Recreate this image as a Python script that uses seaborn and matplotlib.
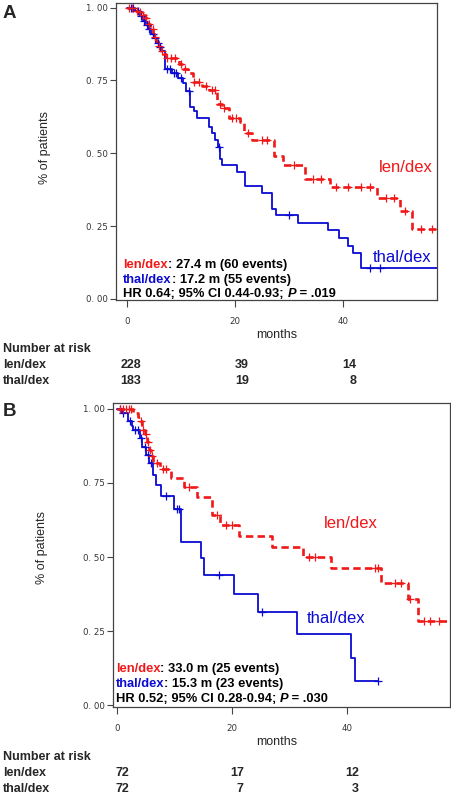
import numpy as np
import seaborn as sns
import matplotlib.pyplot as plt
from matplotlib.transforms import blended_transform_factory, offset_copy

# panel A: survival steps (months, fraction)
a_len_t = [0, 1.5, 2.2, 2.8, 3.3, 3.7, 4.0, 4.3, 4.6, 4.9, 5.2, 5.5, 5.8, 6.1, 6.4, 6.7, 7.2, 9.7,
           10.5, 11.3, 12.2, 14.0, 15.2, 16.8, 17.6, 19.0, 21.0, 21.8, 23.3, 27.3, 28.9, 33.0,
           37.6, 46.3, 50.6, 52.8, 57.5]
a_len_s = [1.0, 0.99, 0.984, 0.975, 0.965, 0.955, 0.945, 0.936, 0.925, 0.91, 0.90, 0.885, 0.87,
           0.86, 0.85, 0.84, 0.827, 0.807, 0.79, 0.775, 0.745, 0.73, 0.716, 0.67, 0.654, 0.62,
           0.606, 0.57, 0.545, 0.49, 0.459, 0.411, 0.385, 0.345, 0.30, 0.24, 0.24]
a_thal_t = [0, 1.5, 2.4, 3.0, 3.5, 4.0, 4.5, 5.0, 5.5, 6.0, 6.5, 7.0, 8.4, 9.5, 10.4, 11.0, 11.8,
            12.4, 13.0, 15.2, 15.8, 16.3, 16.9, 17.2, 17.7, 20.5, 22.0, 25.0, 27.0, 27.6, 31.7,
            37.3, 39.4, 41.0, 42.0, 43.5, 57.5]
a_thal_s = [1.0, 0.99, 0.97, 0.955, 0.94, 0.925, 0.91, 0.895, 0.88, 0.865, 0.85, 0.79, 0.775,
            0.76, 0.74, 0.715, 0.66, 0.645, 0.62, 0.59, 0.57, 0.545, 0.52, 0.48, 0.46, 0.436,
            0.387, 0.364, 0.31, 0.288, 0.261, 0.236, 0.208, 0.18, 0.157, 0.107, 0.107]
a_len_cens = [0.5, 1.0, 1.8, 2.5, 3.0, 3.5, 4.2, 4.8, 5.3, 5.9, 6.5, 7.5, 8.2, 9.0, 10.0, 10.8,
              12.5, 13.3, 14.6, 15.8, 16.3, 17.2, 18.0, 19.5, 20.2, 22.5, 25.0, 26.0, 31.0,
              34.5, 36.0, 38.8, 41.0, 43.5, 45.0, 48.0, 49.5, 51.5, 54.5, 56.5]
a_thal_cens = [0.8, 1.2, 2.0, 2.7, 3.2, 3.8, 4.2, 4.8, 5.2, 5.8, 6.2, 7.5, 8.0, 8.8, 9.2, 10.0,
               11.5, 17.0, 30.0, 45.0, 47.0]

# panel B
b_len_t = [0, 2.8, 3.6, 4.0, 4.4, 4.8, 5.2, 5.6, 6.0, 6.3, 7.4, 9.4, 11.7, 14.0, 16.6, 18.0,
           21.2, 27.0, 32.4, 37.3, 46.0, 50.6, 52.4, 58.0]
b_len_s = [1.0, 0.986, 0.972, 0.958, 0.93, 0.916, 0.888, 0.86, 0.84, 0.818, 0.797, 0.768, 0.738,
           0.704, 0.642, 0.608, 0.571, 0.534, 0.499, 0.462, 0.414, 0.358, 0.284, 0.284]
b_thal_t = [0, 0.9, 1.9, 2.6, 2.8, 4.0, 4.4, 5.0, 5.6, 6.3, 6.8, 7.7, 10.0, 11.2, 14.7, 15.2,
            20.4, 24.6, 31.4, 40.7, 41.4, 45.5]
b_thal_s = [1.0, 0.986, 0.958, 0.944, 0.93, 0.902, 0.873, 0.845, 0.816, 0.776, 0.743, 0.707,
            0.661, 0.552, 0.496, 0.439, 0.377, 0.315, 0.239, 0.158, 0.081, 0.081]
b_len_cens = [0.5, 1.0, 1.5, 2.0, 2.5, 4.2, 4.6, 5.0, 5.4, 5.8, 6.1, 7.0, 8.0, 8.6, 12.5, 17.5,
              19.0, 20.0, 33.5, 34.5, 45.0, 45.5, 48.5, 49.5, 51.0, 53.5, 54.5, 56.0]
b_thal_cens = [0.5, 1.0, 2.2, 3.2, 3.6, 4.2, 4.8, 5.4, 6.0, 8.6, 10.4, 10.8, 17.7, 25.2, 45.5]

x_ticks = [0, 20, 40]
y_ticks = [0, 0.25, 0.5, 0.75, 1.0]
y_ticklabels = ['0. 00', '0. 25', '0. 50', '0. 75', '1. 00']

risk_a = {'len/dex': [228, 39, 14], 'thal/dex': [183, 19, 8]}
risk_b = {'len/dex': [72, 17, 12], 'thal/dex': [72, 7, 3]}

stats_a = ['27.4 m (60 events)', '17.2 m (55 events)', ('HR 0.64; 95% CI 0.44-0.93; ', ' = .019')]
stats_b = ['33.0 m (25 events)', '15.3 m (23 events)', ('HR 0.52; 95% CI 0.28-0.94; ', ' = .030')]

RED = '#f01818'
BLUE = '#0a0ad2'

sns.set_style('ticks')
plt.rcParams['font.family'] = ['Liberation Sans', 'DejaVu Sans']

W, H = 452, 794
fig = plt.figure(figsize=(W / 100, H / 100), dpi=100)


def px_axes(l, t, r, b):
    return fig.add_axes([l / W, 1 - b / H, (r - l) / W, (b - t) / H])


def step_val(t, s, c):
    i = np.searchsorted(t, c, side='right') - 1
    return np.asarray(s)[i]


def km_panel(ax, curves, xlim, ylim):
    for t, s, cens, color, ls, lw in curves:
        sns.lineplot(x=t, y=s, ax=ax, color=color, drawstyle='steps-post', estimator=None,
                     sort=False, linewidth=lw, linestyle=ls)
        sns.scatterplot(x=cens, y=step_val(t, s, cens), ax=ax, marker='+', color=color,
                        s=28, linewidth=0.9, zorder=3)
    ax.set_xlim(*xlim)
    ax.set_ylim(*ylim)
    ax.set_xticks(x_ticks)
    ax.set_yticks(y_ticks)
    ax.set_yticklabels(y_ticklabels, family='DejaVu Sans', fontsize=6.2, color='#333333')
    ax.set_xticklabels([str(v) for v in x_ticks], family='DejaVu Sans', fontsize=6.2,
                       color='#333333')
    ax.tick_params(axis='both', length=4, width=0.8, color='#444444')
    ax.tick_params(axis='x', length=5, pad=7)
    ax.tick_params(axis='y', pad=1.5)
    for sp in ax.spines.values():
        sp.set_color('#444444')
        sp.set_linewidth(0.9)
    ax.set_xlabel('')
    ax.set_ylabel('')


def stats_block(ax, x, ys, stats):
    rows = [[('len/dex', RED, 'normal'), (': ' + stats[0], 'black', 'normal')],
            [('thal/dex', BLUE, 'normal'), (': ' + stats[1], 'black', 'normal')],
            [(stats[2][0], 'black', 'normal'), ('P', 'black', 'italic'),
             (stats[2][1], 'black', 'normal')]]
    for y, row in zip(ys, rows):
        txt, col, sty = row[0]
        prev = ax.text(x, y, txt, color=col, fontstyle=sty, fontweight='bold', fontsize=9.3,
                       transform=ax.transAxes, va='baseline', ha='left')
        for txt, col, sty in row[1:]:
            prev = ax.annotate(txt, xy=(1, 0), xycoords=prev, va='bottom', ha='left',
                               color=col, fontstyle=sty, fontweight='bold', fontsize=9.3)


def risk_table(ax, top, risk, dx):
    fig.text(3 / W, 1 - top / H, 'Number at risk', fontweight='bold', fontsize=9,
             va='center', ha='left')
    trans = offset_copy(blended_transform_factory(ax.transData, fig.transFigure), fig=fig,
                        x=dx, y=0, units='dots')
    for k, (name, vals) in enumerate(risk.items()):
        y = 1 - (top + 16 * (k + 1)) / H
        fig.text(3 / W, y, name, fontweight='bold', fontsize=9, va='center', ha='left')
        for xt, v in zip(x_ticks, vals):
            fig.text(xt, y, str(v), transform=trans, fontweight='bold', fontsize=9,
                     va='center', ha='right')


dash = (0, (2.8, 1.6))

# ---- panel A
axA = px_axes(116, 3, 437, 300)
km_panel(axA, [(a_thal_t, a_thal_s, a_thal_cens, BLUE, '-', 1.3),
               (a_len_t, a_len_s, a_len_cens, RED, dash, 1.9)],
         (-2.0, 57.5), (-0.004, 1.016))
axA.text(0.82, 0.445, 'len/dex', color=RED, fontsize=12, transform=axA.transAxes,
         ha='left', va='center')
axA.text(0.80, 0.142, 'thal/dex', color=BLUE, fontsize=12, transform=axA.transAxes,
         ha='left', va='center')
stats_block(axA, 0.022, [0.108, 0.058, 0.010], stats_a)
fig.text(45 / W, 1 - 147 / H, '% of patients', rotation=90, fontsize=9, ha='center',
         va='center')
fig.text(277 / W, 1 - 335 / H, 'months', fontsize=9, ha='center', va='center')
fig.text(3 / W, 1 - 14 / H, 'A', fontweight='bold', fontsize=13.5, ha='left', va='center')
risk_table(axA, 349, risk_a, 14)

# ---- panel B
axB = px_axes(113, 403, 450, 707)
km_panel(axB, [(b_thal_t, b_thal_s, b_thal_cens, BLUE, '-', 1.3),
               (b_len_t, b_len_s, b_len_cens, RED, dash, 1.9)],
         (-0.7, 58.0), (-0.006, 1.02))
axB.text(0.625, 0.605, 'len/dex', color=RED, fontsize=12, transform=axB.transAxes,
         ha='left', va='center')
axB.text(0.575, 0.29, 'thal/dex', color=BLUE, fontsize=12, transform=axB.transAxes,
         ha='left', va='center')
stats_block(axB, 0.008, [0.115, 0.066, 0.016], stats_b)
fig.text(42 / W, 1 - 548 / H, '% of patients', rotation=90, fontsize=9, ha='center',
         va='center')
fig.text(277 / W, 1 - 742 / H, 'months', fontsize=9, ha='center', va='center')
fig.text(3 / W, 1 - 411 / H, 'B', fontweight='bold', fontsize=13.5, ha='left', va='center')
risk_table(axB, 757, risk_b, 12)

fig.savefig('out.png', dpi=100)
